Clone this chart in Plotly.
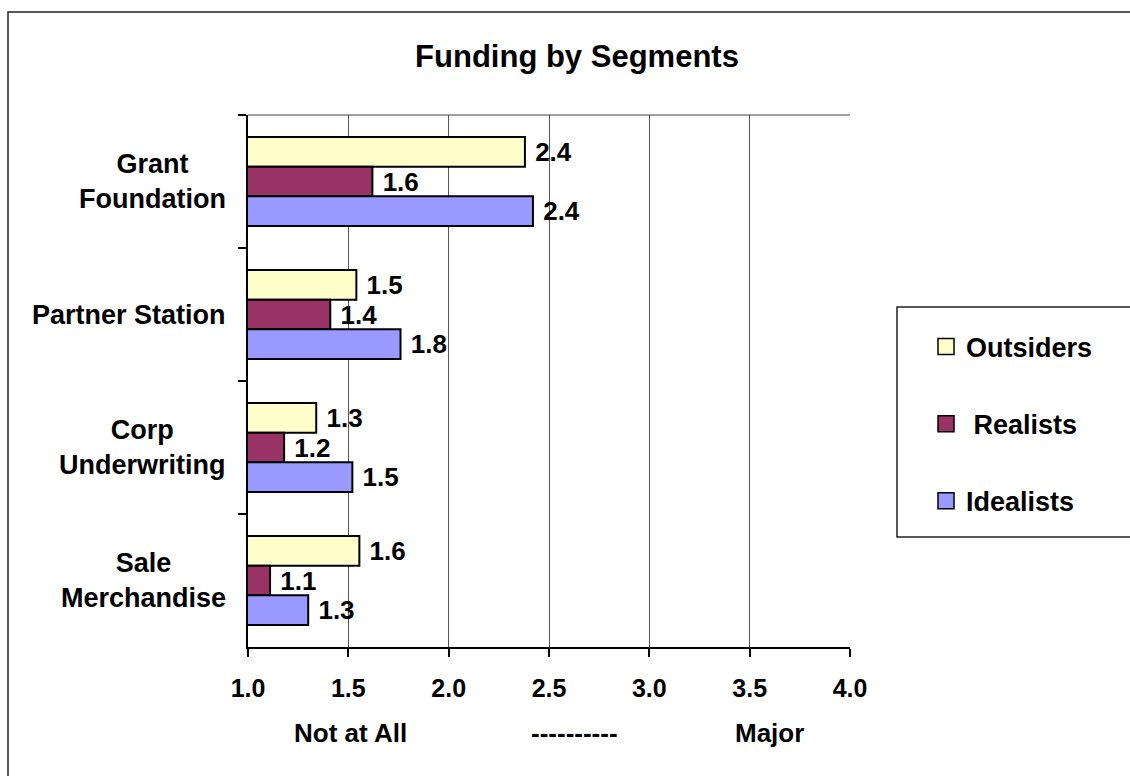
import plotly.graph_objects as go

# Funding sources (top to bottom) and the three audience segments
categories = ["Grant Foundation", "Partner Station", "Corp Underwriting", "Sale Merchandise"]
category_labels = ["Grant<br>Foundation", "Partner Station", "Corp<br>Underwriting", "Sale<br>Merchandise"]
segments = ["Outsiders", "Realists", "Idealists"]
legend_labels = ["Outsiders", "\u00a0Realists", "Idealists"]

outsiders = [2.38, 1.54, 1.34, 1.555]
realists = [1.62, 1.41, 1.18, 1.11]
idealists = [2.42, 1.76, 1.52, 1.30]
series_values = [outsiders, realists, idealists]

x_ticks = [1.0, 1.5, 2.0, 2.5, 3.0, 3.5, 4.0]
scale_words = ["Not at All", "----------", "Major"]
scale_word_pos = [0.171, 0.542, 0.866]

colors = ["#FFFFCC", "#993366", "#9999FF"]
FONT = "Liberation Sans, Arial, sans-serif"

fig = go.Figure()

for name, vals, col in zip(segments, series_values, colors):
    fig.add_trace(go.Bar(
        y=categories, x=vals, orientation="h", name=name,
        marker=dict(color=col, line=dict(color="black", width=2)),
        texttemplate="\u00a0%{x:.1f}", textposition="outside",
        textfont=dict(family=FONT, size=26, color="black", weight="bold"),
        constraintext="none", cliponaxis=False, showlegend=False,
    ))

# legend entries with larger square swatches
for i, (lab, col) in enumerate(zip(legend_labels, colors)):
    fig.add_trace(go.Scatter(
        x=[None], y=[None], mode="markers", name=lab, legendgroup=f"g{i}",
        marker=dict(symbol="square", size=18, color=col, line=dict(color="black", width=1.5)),
        showlegend=True, hoverinfo="skip",
    ))

# outer chart frame and legend frame
def px_x(p):
    return (p - 248) / 602.0

def px_y(p):
    return (647 - p) / 532.0

fig.add_shape(type="rect", xref="paper", yref="paper",
              x0=px_x(8), x1=px_x(1150), y0=px_y(12), y1=px_y(800),
              line=dict(color="#222222", width=1.5), fillcolor="rgba(0,0,0,0)", layer="below")
fig.add_shape(type="rect", xref="paper", yref="paper",
              x0=px_x(897), x1=px_x(1150), y0=px_y(307), y1=px_y(537),
              line=dict(color="#222222", width=1.5), fillcolor="white", layer="below")
# top edge of the plotting area
fig.add_shape(type="line", xref="paper", yref="paper", x0=0, x1=1, y0=1, y1=1,
              line=dict(color="#808080", width=1.5), layer="below")

# category labels, centred line by line
for cat, lab in zip(categories, category_labels):
    fig.add_annotation(x=0, xref="paper", y=cat, yref="y", text=lab, showarrow=False,
                       xanchor="right", yanchor="middle", align="center", xshift=-20,
                       font=dict(family=FONT, size=27, color="black", weight="bold"))

# words under the scale
for word, pos in zip(scale_words, scale_word_pos):
    fig.add_annotation(x=pos, xref="paper", y=px_y(733), yref="paper", text=word,
                       showarrow=False, xanchor="center", yanchor="middle",
                       font=dict(family=FONT, size=26, color="black", weight="bold"))

fig.update_layout(
    width=1130, height=776,
    margin=dict(l=248, r=280, t=115, b=129),
    paper_bgcolor="white", plot_bgcolor="white",
    font=dict(family=FONT, color="black"),
    barmode="group", bargap=0.33, bargroupgap=0,
    title=dict(text="Funding by Segments", x=577 / 1130, xanchor="center",
               y=1 - 56 / 776, yanchor="middle", xref="container", yref="container",
               font=dict(family=FONT, size=31, color="black", weight="bold")),
    legend=dict(x=px_x(926), xanchor="left", y=px_y(424), yanchor="middle",
                bgcolor="rgba(0,0,0,0)", borderwidth=0, traceorder="grouped",
                tracegroupgap=39,
                font=dict(family=FONT, size=27, color="black", weight="bold")),
)

fig.update_xaxes(
    range=[1, 4], tickvals=x_ticks, ticktext=[f"{v:.1f}" for v in x_ticks],
    showgrid=True, gridcolor="#555555", gridwidth=1,
    showline=True, linecolor="black", linewidth=1.5,
    ticks="outside", ticklen=8, tickcolor="black", tickwidth=1.5,
    ticklabelstandoff=10,
    tickfont=dict(family=FONT, size=25, color="black", weight="bold"),
    zeroline=False,
)
fig.update_yaxes(
    categoryorder="array", categoryarray=categories, autorange="reversed",
    showgrid=False, showline=True, linecolor="black", linewidth=1.5,
    ticks="outside", ticklen=8, tickcolor="black", tickwidth=1.5,
    tickson="boundaries", showticklabels=False, zeroline=False,
)

fig.write_html("out.html")
